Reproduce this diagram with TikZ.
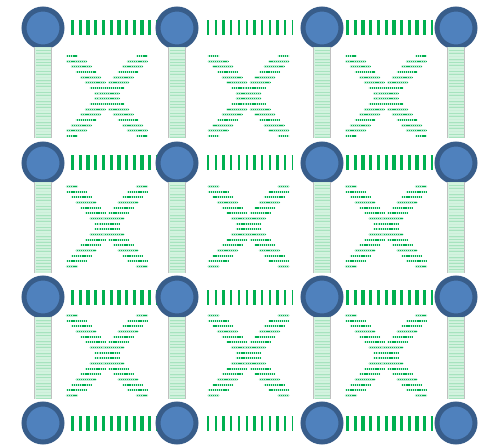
\documentclass[tikz,border=0pt]{standalone}
\usepackage{tikz}
\usepackage{xcolor}
\definecolor{ringblue}{HTML}{385D8A}
\definecolor{fillblue}{HTML}{4F81BD}
\definecolor{sgreen}{HTML}{00B050}
\definecolor{mint}{HTML}{D3F3DF}
\definecolor{mintline}{HTML}{A6E3BE}
\definecolor{bargray}{HTML}{C0C0C0}
\pgfdeclarelayer{bg}
\pgfsetlayers{bg,main}

\begin{document}
\begin{tikzpicture}[x=1pt, y=-1pt,
  ball/.style={circle, minimum size=38pt, inner sep=0pt, line width=5pt, draw=ringblue, fill=fillblue},
  hbar/.style={line width=15pt, draw=sgreen, dash pattern=on 3.3pt off 4.4pt},
  hbarthin/.style={hbar, dash pattern=on 2.3pt off 5.4pt},
  vbar/.style={line width=16pt, draw=mint, shorten <=-2pt, shorten >=3pt,
    preaction={draw=bargray, line width=17.4pt},
    postaction={draw=mintline, line width=15pt, dash pattern=on 0.6pt off 2.4pt},
    postaction={draw=mintline!60, line width=15pt, dash pattern=on 0.5pt off 3.7pt}},
  xrow/.style={draw=sgreen, line width=1.4pt, dash pattern=on 1.2pt off 0.9pt,
    preaction={draw=sgreen!22, line width=2.6pt, line cap=round, dash pattern=}}]
\useasboundingbox (0,0) rectangle (484,446);

% the balls
\foreach \r/\y in {1/28,2/163,3/297,4/423}
  \foreach \c/\x in {1/43,2/177,3/322,4/456}
    \node[ball] (n\r\c) at (\x,\y) {};

% horizontal links
\begin{pgfonlayer}{bg}
\foreach \r in {1,...,4} {
  \draw[hbar, shorten <=6.5pt, shorten >=-2.5pt] (n\r1) -- (n\r2);
  \draw[hbarthin, shorten <=8.5pt, shorten >=7.5pt] (n\r2) -- (n\r3);
  \draw[hbar, shorten <=2.5pt, shorten >=1.5pt] (n\r3) -- (n\r4);
}

% crossed braces
\foreach \cx in {108,249.5,387}
  \foreach \cy in {96,226.5,355.5}
    \foreach \k in {0,...,15} {
      \pgfmathsetmacro\yy{-40+\k*80/15}
      \pgfmathsetmacro\xx{-36+\k*70/15}
      \pgfmathsetmacro\len{(\k==0 || \k==15) ? 5 : 9.5}
      \draw[xrow] ({\cx+\xx-\len},{\cy+\yy}) -- ({\cx+\xx+\len},{\cy+\yy});
      \draw[xrow] ({\cx+\xx-\len},{\cy-\yy}) -- ({\cx+\xx+\len},{\cy-\yy});
    }
\end{pgfonlayer}

% vertical links
\foreach \r/\s in {1/2,2/3,3/4}
  \foreach \c in {1,...,4}
    \draw[vbar] (n\r\c) -- (n\s\c);
\end{tikzpicture}
\end{document}
